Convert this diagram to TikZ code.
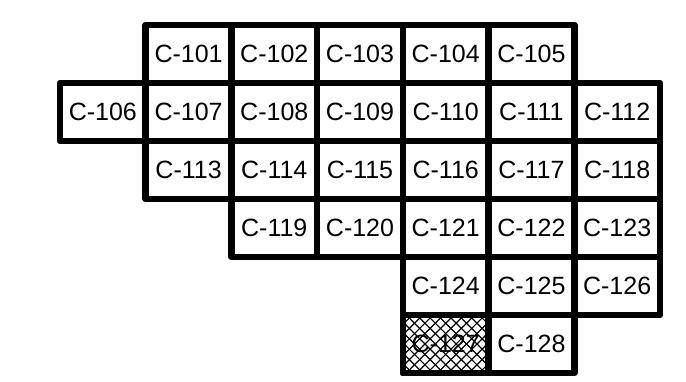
\documentclass[tikz,border=0pt]{standalone}
\usepackage{fontspec}
\setmainfont{Liberation Sans}
\begin{document}
\begin{tikzpicture}[x=1pt,y=-1pt,
  cell/.style={draw=black,line width=6.5pt,line join=round,fill=white,
    minimum width=85.71pt,minimum height=58pt,inner sep=0pt,outer sep=0pt,
    font=\fontsize{25}{30}\selectfont,text=black},
  hatchline/.style={line width=1.2pt,black}]
\useasboundingbox (0,0) rectangle (686,381);
\def\cx#1{60+85.714*#1+42.857}
\def\cy#1{25+58*#1+29}
% row 0
\foreach \c/\n in {1/101,2/102,3/103,4/104,5/105}
  \node[cell] (c\n) at ({\cx{\c}},{\cy{0}}) {C-\n};
% row 1
\foreach \c/\n in {0/106,1/107,2/108,3/109,4/110,5/111,6/112}
  \node[cell] (c\n) at ({\cx{\c}},{\cy{1}}) {C-\n};
% row 2
\foreach \c/\n in {1/113,2/114,3/115,4/116,5/117,6/118}
  \node[cell] (c\n) at ({\cx{\c}},{\cy{2}}) {C-\n};
% row 3
\foreach \c/\n in {2/119,3/120,4/121,5/122,6/123}
  \node[cell] (c\n) at ({\cx{\c}},{\cy{3}}) {C-\n};
% row 4
\foreach \c/\n in {4/124,5/125,6/126}
  \node[cell] (c\n) at ({\cx{\c}},{\cy{4}}) {C-\n};
% row 5
\foreach \c/\n in {4/127,5/128}
  \node[cell] (c\n) at ({\cx{\c}},{\cy{5}}) {C-\n};
% crosshatch over C-127
\begin{scope}
  \clip (c127.north west) rectangle (c127.south east);
  \foreach \k in {-12,...,12}{
    \draw[hatchline] ([shift={(\k*10.4-100,-100)}]c127.center) -- ++(200,200);
    \draw[hatchline] ([shift={(\k*10.4-100,100)}]c127.center) -- ++(200,-200);
  }
\end{scope}
\draw[line width=6.5pt,line join=round] (c127.north west) rectangle (c127.south east);
\end{tikzpicture}
\end{document}
